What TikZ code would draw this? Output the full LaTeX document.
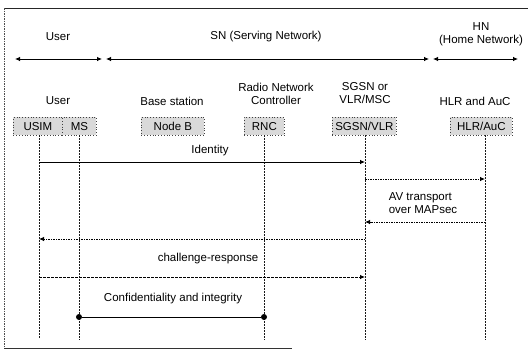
\documentclass[tikz,border=0pt]{standalone}
\usepackage{fontspec}
\setmainfont{Liberation Sans}
\usetikzlibrary{arrows.meta}
\begin{document}
\begin{tikzpicture}[x=1pt,y=-1pt,
  lbl/.style={inner sep=0pt,font=\fontsize{11.5}{13.5}\selectfont,align=center},
  entity/.style={draw=black!75,dotted,line width=0.8pt,fill=black!15,inner sep=0pt,
    minimum height=18pt,font=\fontsize{11.5}{13.5}\selectfont,anchor=north west},
  life/.style={draw=black!90,line width=0.8pt,dash pattern=on 1.6pt off 1.4pt},
  msg/.style={line width=0.8pt,-{Latex[length=5pt,width=4.5pt]}},
  dotmsg/.style={msg,dash pattern=on 1.5pt off 1pt},
  dashmsg/.style={msg,dash pattern=on 3pt off 1pt},
  span/.style={line width=0.8pt,{Latex[length=5pt,width=4.5pt]}-{Latex[length=5pt,width=4.5pt]}},
  dotend/.style={circle,fill=black,inner sep=0pt,minimum width=4pt,minimum height=6pt}]
\useasboundingbox (0,0) rectangle (530,351);
% frame
\coordinate (ftl) at (4,8);
\coordinate (ftr) at (528,8);
\coordinate (fbl) at (4,348);
\coordinate (fbr) at (292,348);
\draw[line width=0.9pt,black!85] (ftl) -- (ftr);
\draw[line width=0.7pt,black!70,dash pattern=on 1.5pt off 1pt] (ftl) -- (fbl);
\draw[line width=0.8pt,black!80] (fbl) -- (fbr);
% domain headers
\node[lbl] (hUser) at (58,37) {User};
\node[lbl] (hSN) at (266,37) {SN (Serving Network)};
\node[lbl] (hHN) at (481,34) {HN\\(Home Network)};
\coordinate (u1) at (15,59); \coordinate (u2) at (102,59);
\coordinate (s1) at (106,59); \coordinate (s2) at (429,59);
\coordinate (h1) at (433,59); \coordinate (h2) at (518,59);
\draw[span] (u1) -- (u2);
\draw[span] (s1) -- (s2);
\draw[span] (h1) -- (h2);
% column labels
\node[lbl] (cUser) at (58,101) {User};
\node[lbl] (cBS) at (172,101) {Base station};
\node[lbl] (cRNC) at (276,94) {Radio Network\\Controller};
\node[lbl] (cSGSN) at (365,93) {SGSN or\\VLR/MSC};
\node[lbl] (cHLR) at (475,101) {HLR and AuC};
% entity boxes
\node[entity,minimum width=49pt] (usim) at (13,117) {USIM};
\node[entity,minimum width=34pt] (ms) at (62,117) {MS};
\node[entity,minimum width=63pt] (nodeb) at (141,117) {Node B};
\node[entity,minimum width=40pt] (rnc) at (244,117) {RNC};
\node[entity,minimum width=64pt] (sgsn) at (332,117) {SGSN/VLR};
\node[entity,minimum width=62pt] (hlr) at (450,117) {HLR/AuC};
% lifelines
\coordinate (usimT) at (39,135); \coordinate (usimB) at (39,338);
\coordinate (msT) at (79,135); \coordinate (msB) at (79,340);
\coordinate (rncT) at (264,135); \coordinate (rncB) at (264,340);
\coordinate (sgsnT) at (365,135); \coordinate (sgsnB) at (365,340);
\coordinate (hlrT) at (485,135); \coordinate (hlrB) at (485,340);
\draw[life] (usimT) -- (usimB);
\draw[life] (msT) -- (msB);
\draw[life] (rncT) -- (rncB);
\draw[life] (sgsnT) -- (sgsnB);
\draw[life] (hlrT) -- (hlrB);
% messages
\coordinate (m1a) at (39,162); \coordinate (m1b) at (365,162);
\draw[msg] (m1a) -- (m1b);
\node[lbl] (tId) at (210,151) {Identity};
\coordinate (m2a) at (365,179); \coordinate (m2b) at (485,179);
\draw[dotmsg] (m2a) -- (m2b);
\node[lbl,align=left] (tAV) at (423,203) {AV transport\\over MAPsec};
\coordinate (m3a) at (485,222); \coordinate (m3b) at (365,222);
\draw[dotmsg] (m3a) -- (m3b);
\coordinate (m4a) at (365,239); \coordinate (m4b) at (39,239);
\draw[dotmsg] (m4a) -- (m4b);
\node[lbl] (tCR) at (208,259) {challenge-response};
\coordinate (m5a) at (39,277); \coordinate (m5b) at (365,277);
\draw[dashmsg] (m5a) -- (m5b);
\node[lbl] (tCI) at (173,299) {Confidentiality and integrity};
\node[dotend] (d1) at (79,317) {};
\node[dotend] (d2) at (264,317) {};
\draw[line width=0.8pt] (d1) -- (d2);
\end{tikzpicture}
\end{document}
